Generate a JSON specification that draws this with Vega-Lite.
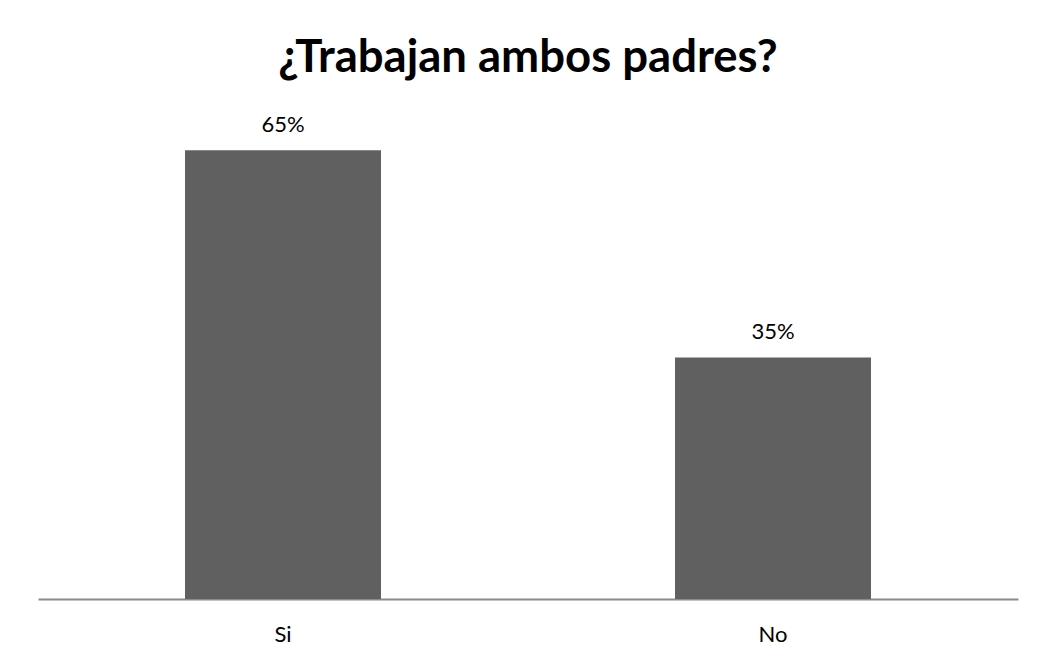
{
  "$schema": "https://vega.github.io/schema/vega-lite/v6.json",
  "autosize": {"type": "none"},
  "padding": {"left": 38, "top": 102, "right": 21, "bottom": 60},
  "width": 980,
  "height": 497,
  "background": "white",
  "title": {
    "text": "¿Trabajan ambos padres?",
    "font": "Lato",
    "fontSize": 45.5,
    "fontWeight": "bold",
    "color": "#000000",
    "anchor": "middle",
    "offset": 21
  },
  "data": {
    "values": [
      {"respuesta": "Si", "porcentaje": 0.65},
      {"respuesta": "No", "porcentaje": 0.35}
    ]
  },
  "encoding": {
    "x": {
      "field": "respuesta",
      "type": "nominal",
      "sort": ["Si", "No"],
      "scale": {"paddingInner": 0.6, "paddingOuter": 0.3},
      "axis": {
        "title": null,
        "labelAngle": 0,
        "ticks": false,
        "labelFont": "Lato",
        "labelFontSize": 22,
        "labelColor": "#000000",
        "labelPadding": 25,
        "domainColor": "#8a8a8a",
        "domainWidth": 2
      }
    },
    "y": {
      "field": "porcentaje",
      "type": "quantitative",
      "scale": {"domain": [0, 0.72], "nice": false},
      "axis": null
    }
  },
  "layer": [
    {"mark": {"type": "bar", "color": "#606060"}},
    {
      "mark": {
        "type": "text",
        "baseline": "alphabetic",
        "dy": -18,
        "font": "Lato",
        "fontSize": 22,
        "color": "#000000"
      },
      "encoding": {
        "text": {"field": "porcentaje", "type": "quantitative", "format": ".0%"}
      }
    }
  ],
  "config": {
    "view": {"stroke": null},
    "axis": {"grid": false}
  }
}
